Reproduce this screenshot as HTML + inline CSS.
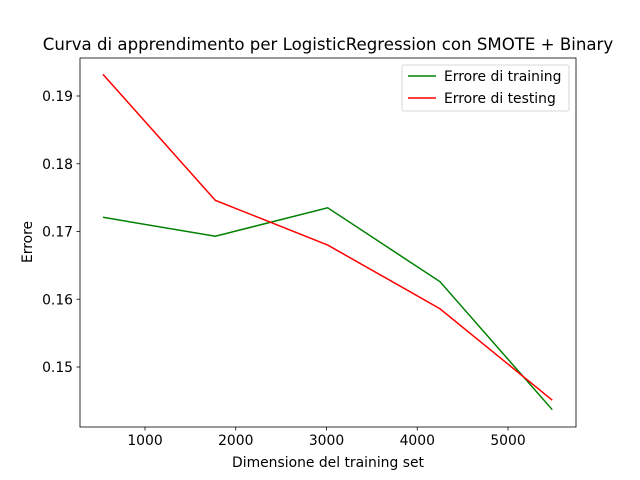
<!DOCTYPE html>
<html><head><meta charset="utf-8"><style>
body{margin:0;background:#fff;}
svg{display:block;font-family:"DejaVu Sans","Liberation Sans",sans-serif;}
</style></head><body>
<svg id="chart" width="640" height="480"></svg>
<script>
const sizes=[537,1775,3013,4250,5488];
const trainErr=[0.1721,0.1693,0.1735,0.1626,0.1437];
const testErr=[0.1932,0.1746,0.1680,0.1586,0.1451];
const xTicks=[1000,2000,3000,4000,5000];
const yTicks=[0.15,0.16,0.17,0.18,0.19];
const yLabels=["0.15","0.16","0.17","0.18","0.19"];

const L=80,R=576,T=58,B=427;
const FS=13.9, TFS=16.6;
const X=v=>54.25+v*0.09075;
const Y=v=>96+(0.19-v)*6775;
const svg=document.getElementById('chart');
const NS='http://www.w3.org/2000/svg';
function mk(tag,attrs,parent){const e=document.createElementNS(NS,tag);for(const k in attrs)e.setAttribute(k,attrs[k]);(parent||svg).appendChild(e);return e;}

const title=mk('text',{x:328,y:50,'text-anchor':'middle','font-size':TFS,fill:'#000'});
title.textContent='Curva di apprendimento per LogisticRegression con SMOTE + Binary';



xTicks.forEach(t=>{
  const g=mk('g',{});
  
  
  mk('line',{x1:X(t),x2:X(t),y1:B,y2:B+3.5,stroke:'#000','stroke-width':0.8},g);
  const tx=mk('text',{x:X(t),y:B+18,'text-anchor':'middle','font-size':FS,fill:'#000'},g);
  tx.textContent=String(t);
});
yTicks.forEach((t,i)=>{
  const g=mk('g',{});
  
  
  mk('line',{x1:L-3.5,x2:L,y1:Y(t),y2:Y(t),stroke:'#000','stroke-width':0.8},g);
  const tx=mk('text',{x:L-7,y:Y(t)+5,'text-anchor':'end','font-size':FS,fill:'#000'},g);
  tx.textContent=yLabels[i];
});
const xl=mk('text',{x:328,y:467,'text-anchor':'middle','font-size':FS,fill:'#000'});
xl.textContent='Dimensione del training set';


const yl=mk('text',{x:0,y:0,'text-anchor':'middle','font-size':FS,fill:'#000',transform:'translate(32,242) rotate(-90)'});
yl.textContent='Errore';



function line(vals,color,name){
  const p=mk('polyline',{points:sizes.map((s,i)=>X(s)+','+Y(vals[i])).join(' '),fill:'none',stroke:color,'stroke-width':1.5});
  
  
}
line(trainErr,'green','training-error-line');
line(testErr,'red','testing-error-line');

const frame=mk('rect',{x:L,y:T,width:R-L,height:B-T,fill:'none',stroke:'#000','stroke-width':0.8});



const lg=mk('g',{});


mk('rect',{x:402,y:65,width:167,height:46,rx:2,fill:'#fff',stroke:'#ccc','stroke-width':0.8},lg);
[['Errore di training','green',76],['Errore di testing','red',98]].forEach(([t,c,y])=>{
  const e=mk('g',{},lg);
  
  
  mk('line',{x1:408,x2:436,y1:y,y2:y,stroke:c,'stroke-width':1.5},e);
  const tx=mk('text',{x:444,y:y+5,'font-size':FS,fill:'#000'},e);
  tx.textContent=t;
});
</script>
</body></html>
